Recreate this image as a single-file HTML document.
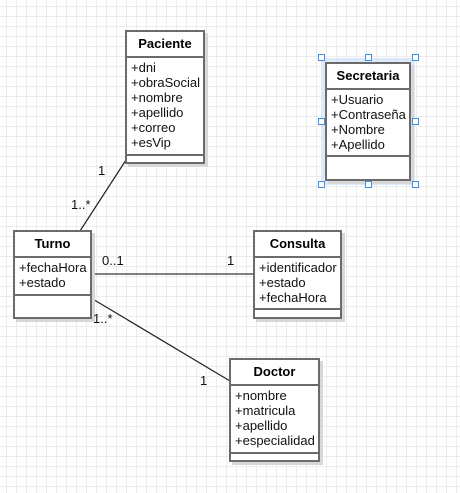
<!DOCTYPE html>
<html><head><meta charset="utf-8"><style>
html,body{margin:0;padding:0}
body{width:460px;height:493px;position:relative;overflow:hidden;background-color:#fff;
background-image:linear-gradient(#ececec 1px,transparent 1px),linear-gradient(90deg,#ececec 1px,transparent 1px);
background-size:10px 10px;background-position:6px 6px;font-family:"Liberation Sans",sans-serif;}
.c{position:absolute;background:#fff;border:2px solid #6b6b6b;box-sizing:border-box;box-shadow:3px 3px 0 #d8d8d8;}
.h{font-weight:bold;font-size:13px;text-align:center;border-bottom:2px solid #6b6b6b;box-sizing:border-box;}
.a{font-size:13px;line-height:15px;padding:2px 0 0 4px;color:#111;border-bottom:2px solid #6b6b6b;box-sizing:border-box;white-space:nowrap}
.l{position:absolute;font-size:13px;color:#111}
.hd{position:absolute;width:7px;height:7px;border:1px solid #3d8ee8;background:#fff;box-sizing:border-box}
</style></head><body>
<svg style="position:absolute;left:0;top:0" width="460" height="493">
<rect x="321" y="58" width="94" height="127" fill="#d3e5fb" opacity="0.8"/>
<line x1="126" y1="160" x2="80" y2="231" stroke="#222" stroke-width="1.2"/>
<line x1="91" y1="274" x2="254" y2="274" stroke="#555" stroke-width="1.5"/>
<line x1="91" y1="298" x2="230" y2="381" stroke="#222" stroke-width="1.2"/>
</svg>
<div class="c" style="left:125px;top:30px;width:80px;height:134px">
<div class="h" style="height:26px;line-height:24px">Paciente</div>
<div class="a" style="height:98px">+dni<br>+obraSocial<br>+nombre<br>+apellido<br>+correo<br>+esVip</div></div>
<div class="c" style="left:325px;top:62px;width:86px;height:119px">
<div class="h" style="height:26px;line-height:24px">Secretaria</div>
<div class="a" style="height:67px">+Usuario<br>+Contraseña<br>+Nombre<br>+Apellido</div></div>
<div class="c" style="left:13px;top:230px;width:79px;height:89px">
<div class="h" style="height:26px;line-height:24px">Turno</div>
<div class="a" style="height:38px">+fechaHora<br>+estado</div></div>
<div class="c" style="left:253px;top:230px;width:89px;height:89px">
<div class="h" style="height:26px;line-height:24px">Consulta</div>
<div class="a" style="height:52px">+identificador<br>+estado<br>+fechaHora</div></div>
<div class="c" style="left:229px;top:358px;width:91px;height:104px">
<div class="h" style="height:26px;line-height:24px">Doctor</div>
<div class="a" style="height:68px">+nombre<br>+matricula<br>+apellido<br>+especialidad</div></div>
<div class="l" style="left:98px;top:163px">1</div>
<div class="l" style="left:71px;top:197px">1..*</div>
<div class="l" style="left:102px;top:253px">0..1</div>
<div class="l" style="left:227px;top:253px">1</div>
<div class="l" style="left:93px;top:311px">1..*</div>
<div class="l" style="left:200px;top:373px">1</div>
<div class="hd" style="left:318px;top:54px"></div><div class="hd" style="left:365px;top:54px"></div><div class="hd" style="left:412px;top:54px"></div>
<div class="hd" style="left:318px;top:118px"></div><div class="hd" style="left:412px;top:118px"></div>
<div class="hd" style="left:318px;top:181px"></div><div class="hd" style="left:365px;top:181px"></div><div class="hd" style="left:412px;top:181px"></div>
</body></html>
